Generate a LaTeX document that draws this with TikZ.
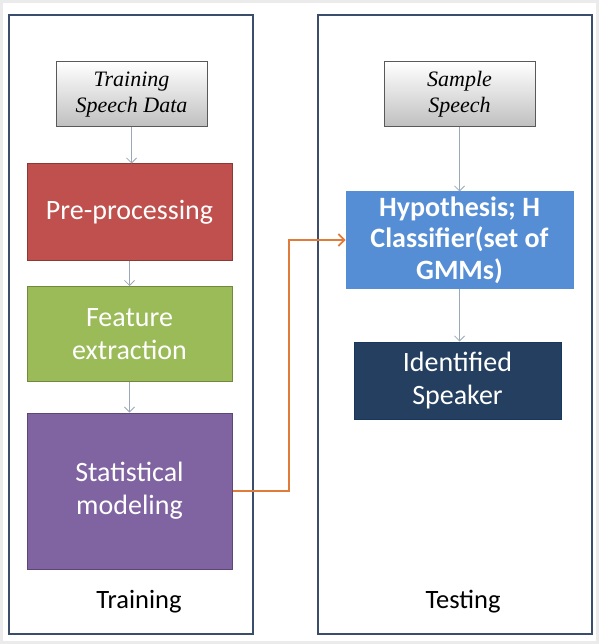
\documentclass[tikz,border=0pt]{standalone}
\usepackage{fontspec}
\setmainfont{Carlito}
\newfontfamily\seriffont{Liberation Serif}
\usetikzlibrary{arrows.meta}
\definecolor{framecol}{HTML}{3A4D6A}
\definecolor{redfill}{HTML}{C0504D}
\definecolor{redline}{HTML}{8C3836}
\definecolor{greenfill}{HTML}{9BBB59}
\definecolor{greenline}{HTML}{71893F}
\definecolor{purplefill}{HTML}{8064A2}
\definecolor{purpleline}{HTML}{5C4776}
\definecolor{bluefill}{HTML}{558ED5}
\definecolor{navyfill}{HTML}{243F60}
\definecolor{navyline}{HTML}{17375E}
\definecolor{arrowgray}{HTML}{9AA8B8}
\definecolor{orangecol}{HTML}{E07B39}
\tikzset{
  panel/.style={draw=framecol, line width=2pt, fill=white, inner sep=0pt},
  panellabel/.style={font=\fontsize{26.5}{31}\selectfont, text=black},
  inputbox/.style={draw=black!65, line width=1pt, top color=white, bottom color=black!25,
    font=\seriffont\itshape\fontsize{22}{26}\selectfont, align=center, inner sep=0pt},
  procbox/.style={line width=1pt, text=white, align=center, inner sep=0pt,
    font=\fontsize{28}{33}\selectfont},
  flow/.style={draw=arrowgray, line width=0.8pt, -{Straight Barb[length=5pt,width=10pt]}},
  link/.style={draw=orangecol, line width=1.6pt, -{Straight Barb[length=6pt,width=12pt]}}
}
\begin{document}
\begin{tikzpicture}[x=1pt,y=-1pt]
\useasboundingbox (0,0) rectangle (599,644);
\draw[fill=white, draw=black!8, line width=3pt] (1.5,1.5) rectangle (597.5,642.5);

\node[panel, minimum width=244, minimum height=619] (trainpanel) at (131,324.5) {};
\node[panel, minimum width=274, minimum height=619] (testpanel) at (455,324.5) {};

\node[panellabel] (trainlbl) at (139,602) {Training};
\node[panellabel] (testlbl) at (463,602) {Testing};

\node[inputbox, minimum width=151, minimum height=65] (tsd) at (131.5,94.5) {Training\\Speech Data};
\node[procbox, fill=redfill, draw=redline, minimum width=205, minimum height=96] (pre) at (129.5,212) {Pre-processing};
\node[procbox, fill=greenfill, draw=greenline, minimum width=205, minimum height=95] (feat) at (129.5,334) {Feature\\extraction};
\node[procbox, fill=purplefill, draw=purpleline, minimum width=205, minimum height=156] (stat) at (129.5,491) {Statistical\\modeling};

\node[inputbox, minimum width=151, minimum height=65] (ss) at (459.5,94.5) {Sample\\Speech};
\node[procbox, fill=bluefill, draw=bluefill, minimum width=227, minimum height=96, font=\bfseries\fontsize{28}{31.5}\selectfont] (hyp) at (459.5,240) {Hypothesis; H\\Classifier(set of\\GMMs)};
\node[procbox, fill=navyfill, draw=navyline, minimum width=207, minimum height=77] (ids) at (457.5,380.5) {Identified\\Speaker};

\draw[flow] (tsd.south) -- (tsd.south |- pre.north);
\draw[flow] (pre.south) -- (feat.north);
\draw[flow] (feat.south) -- (stat.north);
\draw[flow] (ss.south) -- (ss.south |- hyp.north);
\draw[flow] (hyp.south) -- (hyp.south |- ids.north);

\coordinate (bend) at (289,491);
\draw[link] (stat.east) -- (bend) |- (hyp.west);
\end{tikzpicture}
\end{document}
